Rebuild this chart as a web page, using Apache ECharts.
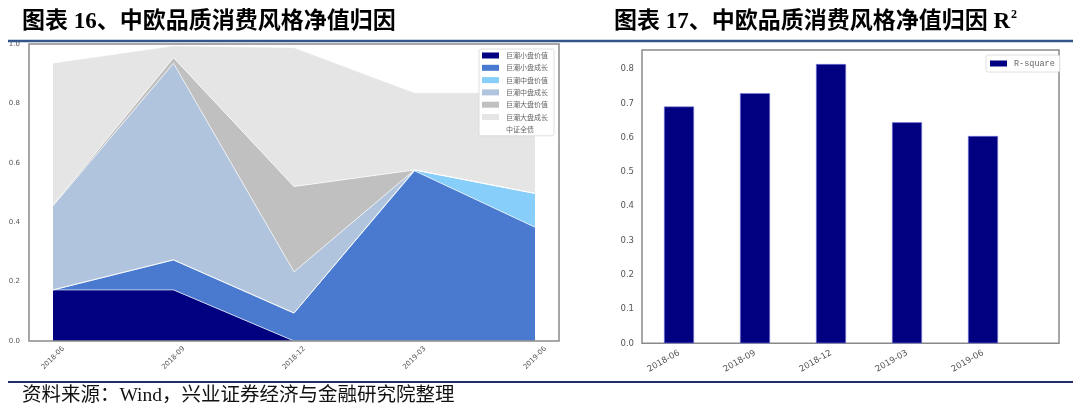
<!DOCTYPE html>
<html>
<head>
<meta charset="utf-8">
<script src="https://cdn.jsdelivr.net/npm/echarts@6/dist/echarts.min.js"></script>
<style>
html,body{margin:0;padding:0;background:#fff;}
#main{width:1080px;height:414px;}
</style>
</head>
<body>
<div id="main"></div>
<script>
// ---- data ----
var categories = ['2018-06', '2018-09', '2018-12', '2019-03', '2019-06'];
var seriesNames = ['巨潮小盘价值', '巨潮小盘成长', '巨潮中盘价值', '巨潮中盘成长', '巨潮大盘价值', '巨潮大盘成长', '中证全债'];
var smallValue  = [0.172, 0.172, 0.000, 0.000, 0.000];
var smallGrowth = [0.000, 0.101, 0.094, 0.573, 0.383];
var midValue    = [0.000, 0.000, 0.000, 0.003, 0.114];
var midGrowth   = [0.283, 0.662, 0.139, 0.000, 0.000];
var largeValue  = [0.003, 0.019, 0.287, 0.000, 0.000];
var largeGrowth = [0.478, 0.040, 0.468, 0.260, 0.339];
var bond        = [0.064, 0.003, 0.012, 0.164, 0.164];
var rSquare     = [0.691, 0.730, 0.815, 0.645, 0.605];
var leftYTicks  = [0, 0.2, 0.4, 0.6, 0.8, 1.0];
var rightYTicks = [0, 0.1, 0.2, 0.3, 0.4, 0.5, 0.6, 0.7, 0.8];

var areaData = [smallValue, smallGrowth, midValue, midGrowth, largeValue, largeGrowth, bond];
var areaColors = ['#000080', '#4a7acf', '#87cefa', '#b0c4de', '#c0c0c0', '#e5e5e5', '#ffffff'];
var idx = categories.map(function (c, i) { return i; });

function toPairs(arr) { return arr.map(function (v, i) { return [i, v]; }); }

var series = areaData.map(function (arr, k) {
  var isBond = k === 6;
  return {
    name: seriesNames[k], type: 'line', stack: 'total',
    xAxisIndex: 0, yAxisIndex: 0,
    data: arr, symbol: 'none', smooth: false,
    itemStyle: { color: areaColors[k] },
    lineStyle: { color: '#ffffff', width: 0.8, opacity: isBond ? 0 : 0.85 },
    areaStyle: { color: areaColors[k], opacity: isBond ? 0 : 1 },
    emphasis: { disabled: true }, z: 2
  };
});
series.push({
  name: 'R-square', type: 'bar', xAxisIndex: 1, yAxisIndex: 1,
  data: toPairs(rSquare), barWidth: 30,
  itemStyle: { color: '#000080', borderColor: '#7a7ae0', borderWidth: 0.6 }
});

var titleFont = "bold 23px 'Liberation Serif', 'Noto Sans CJK SC', serif";
var titleRight = '图表 17、中欧品质消费风格净值归因 R';
var cv = document.createElement('canvas').getContext('2d');
cv.font = titleFont;
var titleRightW = cv.measureText(titleRight).width;

var labelStyle = { color: '#555', fontFamily: "'DejaVu Sans', sans-serif" };
var chart = echarts.init(document.getElementById('main'), null, { renderer: 'canvas' });
chart.setOption({
  backgroundColor: '#ffffff',
  animation: false,
  grid: [
    { left: 53, top: 44, width: 482, height: 297, show: false, containLabel: false },
    { left: 642, top: 50, width: 417, height: 293.3, show: true, borderColor: '#8a8a8a', borderWidth: 1.5, backgroundColor: '#fff', containLabel: false }
  ],
  xAxis: [
    { gridIndex: 0, type: 'category', data: categories, boundaryGap: false,
      axisLine: { show: false }, axisTick: { show: false }, splitLine: { show: false },
      axisLabel: Object.assign({ rotate: 45, align: 'center', verticalAlign: 'middle', margin: 17, fontSize: 7, interval: 0 }, labelStyle) },
    { gridIndex: 1, type: 'value', min: -0.487, max: 5.0,
      axisLine: { show: false }, axisTick: { show: false }, splitLine: { show: false },
      axisLabel: Object.assign({ customValues: idx, rotate: 30, margin: 9, fontSize: 8.5,
        formatter: function (v) { return categories[Math.round(v)] || ''; } }, labelStyle) }
  ],
  yAxis: [
    { gridIndex: 0, type: 'value', min: 0, max: 1,
      axisLine: { show: false }, axisTick: { show: false }, splitLine: { show: false },
      axisLabel: Object.assign({ customValues: leftYTicks, fontSize: 7, margin: 33,
        formatter: function (v) { return v.toFixed(1); } }, labelStyle) },
    { gridIndex: 1, type: 'value', min: 0, max: 0.856,
      axisLine: { show: false }, axisTick: { show: false }, splitLine: { show: false },
      axisLabel: Object.assign({ customValues: rightYTicks, fontSize: 8.5, margin: 8,
        formatter: function (v) { return v.toFixed(1); } }, labelStyle) }
  ],
  legend: [
    { orient: 'vertical', left: 479, top: 49, itemWidth: 17, itemHeight: 6, itemGap: 5.3,
      icon: 'rect', padding: [3, 6, 3, 3],
      backgroundColor: '#ffffff', borderColor: '#d8d8d8', borderWidth: 0.8, borderRadius: 2,
      textStyle: { fontSize: 7, color: '#666', fontFamily: "'Noto Sans CJK SC', sans-serif", padding: [0, 0, 0, 2] },
      data: seriesNames.map(function (n, k) { return { name: n, itemStyle: { color: areaColors[k], borderWidth: 0 } }; }),
      selectedMode: false, z: 20 },
    { orient: 'vertical', left: 986, top: 55, itemWidth: 17, itemHeight: 6,
      icon: 'rect', padding: [4, 5, 4, 4],
      backgroundColor: '#ffffff', borderColor: '#d8d8d8', borderWidth: 0.8, borderRadius: 2,
      textStyle: { fontSize: 8.5, color: '#666', fontFamily: "'Liberation Mono', monospace", padding: [0, 0, 0, 2] },
      data: [{ name: 'R-square', itemStyle: { color: '#000080', borderWidth: 0 } }],
      selectedMode: false }
  ],
  graphic: [
    { type: 'rect', z: 15, silent: true, shape: { x: 29, y: 44, width: 530, height: 297 },
      style: { fill: 'none', stroke: '#8a8a8a', lineWidth: 1.5 } },
    { type: 'text', left: 22, top: 11, z: 10,
      style: { text: '图表 16、中欧品质消费风格净值归因', fill: '#000', font: titleFont } },
    { type: 'text', left: 614, top: 11, z: 10,
      style: { text: titleRight, fill: '#000', font: titleFont } },
    { type: 'text', left: 614 + titleRightW + 1, top: 9, z: 10,
      style: { text: '2', fill: '#000', fontSize: 12, fontWeight: 'bold', fontFamily: "'Liberation Serif', serif" } },
    { type: 'line', z: 10, shape: { x1: 8, y1: 41, x2: 1073, y2: 41 }, style: { stroke: '#34558a', lineWidth: 2.5 } },
    { type: 'line', z: 10, shape: { x1: 8, y1: 382, x2: 1073, y2: 382 }, style: { stroke: '#22306a', lineWidth: 2 } },
    { type: 'text', left: 22, top: 386, z: 10,
      style: { text: '资料来源：Wind，兴业证券经济与金融研究院整理', fill: '#111', fontSize: 19.5,
        fontFamily: "'Liberation Serif', 'Noto Sans CJK SC', serif" } }
  ],
  series: series
});
</script>
</body>
</html>
